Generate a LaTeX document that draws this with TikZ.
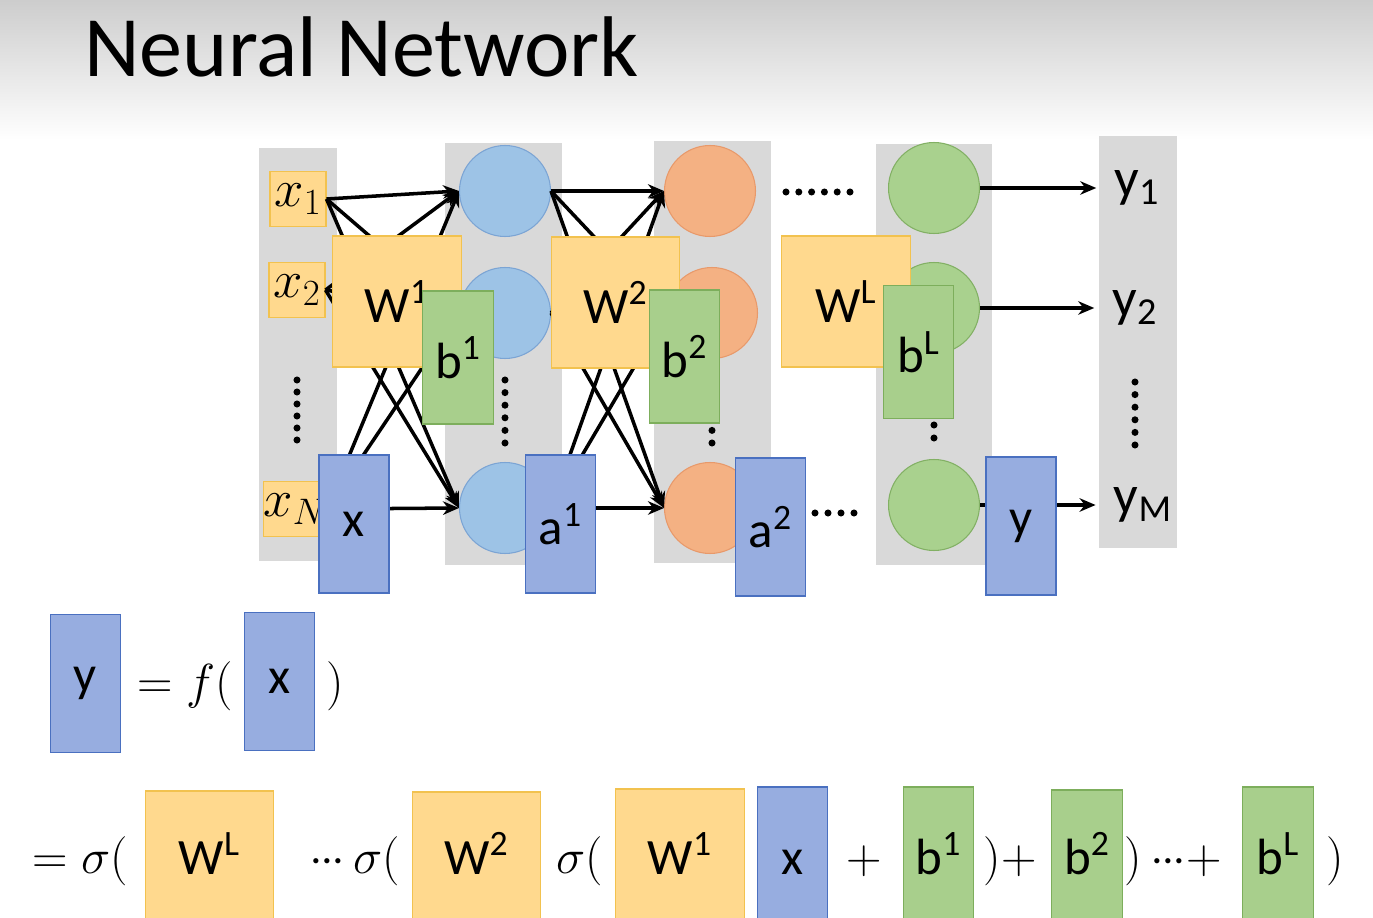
\RequirePackage{fix-cm}
\documentclass[tikz,border=0pt]{standalone}
\usepackage{fontspec}
\setmainfont{Carlito}
\usetikzlibrary{arrows.meta}
\definecolor{colgray}{HTML}{D9D9D9}
\definecolor{topgray}{HTML}{CDCDCD}
\definecolor{wfill}{HTML}{FFD98E}
\definecolor{wdraw}{HTML}{F2C24F}
\definecolor{bfill}{HTML}{A8CF8C}
\definecolor{bdraw}{HTML}{7DAE5C}
\definecolor{vfill}{HTML}{97ADE0}
\definecolor{vdraw}{HTML}{4A70C0}
\definecolor{nblue}{HTML}{9DC3E6}
\definecolor{nbluedraw}{HTML}{7BA4D4}
\definecolor{norange}{HTML}{F4B183}
\definecolor{norangedraw}{HTML}{E8996A}
\definecolor{ngreen}{HTML}{A9D18E}
\definecolor{ngreendraw}{HTML}{82B064}
\newcommand\boxsize{\fontsize{29}{32}\selectfont}
\newcommand\tdots{{\cdot}\mkern-1mu{\cdot}\mkern-1mu{\cdot}}
\tikzset{
  >={Stealth[length=3.2mm,width=2.7mm]},
  col/.style={fill=colgray,inner sep=0pt},
  inbox/.style={draw=wdraw,fill=wfill,line width=0.6pt,minimum width=1.12cm,
    minimum height=1.1cm,inner sep=0pt,font=\fontsize{30}{32}\selectfont},
  wmat/.style={draw=wdraw,fill=wfill,line width=0.6pt,minimum width=2.57cm,
    minimum height=2.62cm,inner sep=0pt,font=\boxsize},
  bvec/.style={draw=bdraw,fill=bfill,line width=0.6pt,minimum width=1.41cm,
    minimum height=2.66cm,inner sep=0pt,font=\boxsize},
  avec/.style={draw=vdraw,fill=vfill,line width=0.6pt,minimum width=1.4cm,
    minimum height=2.76cm,inner sep=0pt,font=\boxsize},
  tall/.style={minimum height=3.2cm},
  neuron/.style={circle,minimum size=1.82cm,inner sep=0pt,line width=0.6pt},
  nb/.style={neuron,draw=nbluedraw,fill=nblue},
  no/.style={neuron,draw=norangedraw,fill=norange},
  ng/.style={neuron,draw=ngreendraw,fill=ngreen},
  conn/.style={->,line width=2pt},
  outlbl/.style={font=\fontsize{31}{34}\selectfont,inner xsep=0.36cm,inner ysep=0pt},
  eqlbl/.style={font=\fontsize{28}{30}\selectfont,inner sep=0pt,anchor=base},
  boxlbl/.style={font=\boxsize,inner sep=0pt,anchor=base},
}

\begin{document}
\begin{tikzpicture}[x=0.02cm,y=-0.02cm]
  \clip (0,0) rectangle (1373,918);
  \fill[white] (0,0) rectangle (1373,918);
  \shade[top color=topgray,bottom color=white] (0,0) rectangle (1373,140);
  \node[anchor=base west,inner sep=0pt,font=\fontsize{49}{52}\selectfont] (title)
    at (84,77) {Neural Network};

  % layer columns
  \node[col,minimum width=1.56cm,minimum height=8.26cm] (c0) at (298,354.5) {};
  \node[col,minimum width=2.34cm,minimum height=8.44cm] (c1) at (503.5,354) {};
  \node[col,minimum width=2.34cm,minimum height=8.44cm] (c2) at (712.5,352) {};
  \node[col,minimum width=2.32cm,minimum height=8.42cm] (cL) at (934,354.5) {};
  \node[col,minimum width=1.56cm,minimum height=8.24cm] (cO) at (1138,342) {};

  % neurons
  \node[nb] (h11) at (505,191) {};
  \node[nb] (h12) at (505,313) {};
  \node[nb] (h13) at (505,508) {};
  \node[no] (h21) at (710,191) {};
  \node[no] (h22) at (712,313) {};
  \node[no] (h23) at (710,508) {};
  \node[ng] (hL1) at (934,188) {};
  \node[ng] (hL2) at (934,308) {};
  \node[ng] (hL3) at (934,505) {};

  % inputs and outputs
  \node[inbox] (x1) at (298,199) {$x_1$};
  \node[inbox] (x2) at (297,290) {$x_2$};
  \node[inbox] (xN) at (295,509) {$x_N$};
  \node[outlbl] (y1) at (1137,188) {y\textsubscript{1}};
  \node[outlbl] (y2) at (1135,308) {y\textsubscript{2}};
  \node[outlbl] (yM) at (1143,505) {y\textsubscript{M}};

  \foreach \s in {x1,x2,xN}
    \foreach \t in {h11,h12,h13}
      \draw[conn] (\s.east) -- (\t.west);
  \foreach \s in {h11,h12,h13}
    \foreach \t in {h21,h22,h23}
      \draw[conn] (\s.east) -- (\t.west);
  \draw[conn] (hL1.east) -- (y1.west);
  \draw[conn] (hL2.east) -- (y2.west);
  \draw[conn] (hL3.east) -- (yM.west);

  % dots
  \foreach \k in {0,...,5} {
    \fill (297,{380+12*\k}) circle[radius=2pt];
    \fill (505,{380+12.6*\k}) circle[radius=2pt];
    \fill (712,{380+12.6*\k}) circle[radius=2pt];
    \fill (934,{373+13*\k}) circle[radius=2pt];
    \fill (1135,{382+12.6*\k}) circle[radius=2pt];
    \fill ({786+12.8*\k},192) circle[radius=2pt];
  }
  \foreach \k in {0,...,3}
    \fill ({815+13*\k},513) circle[radius=2pt];

  % parameter and activation boxes
  \node[wmat] (W1) at (397,301.5) {W\textsuperscript{1}};
  \node[bvec] (b1) at (458,357.5) {b\textsuperscript{1}};
  \node[avec] (xv) at (354,524) {x};
  \node[wmat] (W2) at (615.5,302.5) {W\textsuperscript{2}};
  \node[bvec] (b2) at (684.5,356.5) {b\textsuperscript{2}};
  \node[avec] (a1) at (560.5,524) {a\textsuperscript{1}};
  \node[avec] (a2) at (770.5,527) {a\textsuperscript{2}};
  \node[wmat] (WL) at (846,301.5) {W\textsuperscript{L}};
  \node[bvec] (bL) at (918.5,352) {b\textsuperscript{L}};
  \node[avec] (yv) at (1021,526) {y};

  % y = f(x)
  \node[avec] (ey) at (85.5,683.5) {y};
  \node[eqlbl] (eqf) at (185,699) {$=f($};
  \node[avec] (ex) at (279.5,681.5) {x};
  \node[eqlbl] (eqr) at (335,699) {$)$};

  % expanded form
  \node[wmat,tall] (fWL) at (209.5,871) {};
  \node[wmat,tall] (fW2) at (476.5,872) {};
  \node[wmat,tall] (fW1) at (680,869) {};
  \node[avec,tall] (fx) at (792.5,867) {};
  \node[bvec,tall] (fb1) at (938.5,867) {};
  \node[bvec,tall] (fb2) at (1087,870) {};
  \node[bvec,tall] (fbL) at (1278,867) {};
  \node[boxlbl] (tWL) at (fWL |- 0,874) {W\textsuperscript{L}};
  \node[boxlbl] (tW2) at (fW2 |- 0,874) {W\textsuperscript{2}};
  \node[boxlbl] (tW1) at (fW1 |- 0,874) {W\textsuperscript{1}};
  \node[boxlbl] (tx) at (fx |- 0,874) {x};
  \node[boxlbl] (tb1) at (fb1 |- 0,874) {b\textsuperscript{1}};
  \node[boxlbl] (tb2) at (fb2 |- 0,874) {b\textsuperscript{2}};
  \node[boxlbl] (tbL) at (fbL |- 0,874) {b\textsuperscript{L}};
  \node[eqlbl] (s1) at (80,873) {$=\sigma($};
  \node[eqlbl] (s2) at (355,873) {$\tdots\,\sigma($};
  \node[eqlbl] (s3) at (580,873) {$\sigma($};
  \node[eqlbl] (p1) at (864,873) {$+$};
  \node[eqlbl] (p2) at (1010,873) {$)+$};
  \node[eqlbl] (p3) at (1133,873) {$)$};
  \node[eqlbl] (p4) at (1186,873) {$\tdots{+}$};
  \node[eqlbl] (p5) at (1335,873) {$)$};
\end{tikzpicture}
\end{document}
